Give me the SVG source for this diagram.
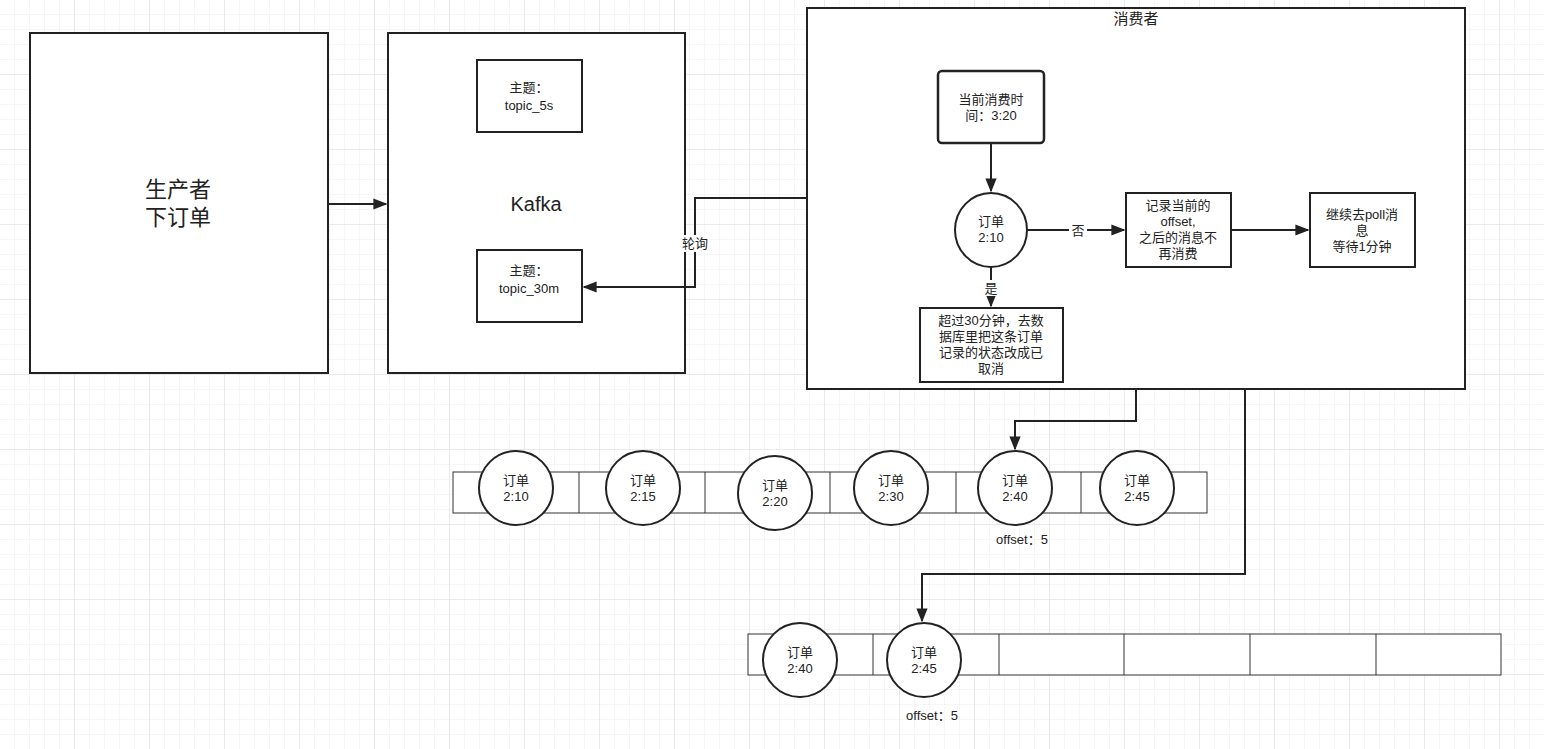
<svg xmlns="http://www.w3.org/2000/svg" width="1544" height="749" viewBox="0 0 1544 749">
<defs>
<pattern id="g" width="15" height="15" patternUnits="userSpaceOnUse"><path d="M15 0V15H0" fill="none" stroke="#ececec" stroke-width="1"/></pattern>
<pattern id="G" width="75" height="75" patternUnits="userSpaceOnUse"><rect width="75" height="75" fill="url(#g)"/><path d="M75 0V75H0" fill="none" stroke="#dedede" stroke-width="1"/></pattern>
<marker id="a" viewBox="0 0 10 10" refX="9" refY="5" markerWidth="7" markerHeight="7" orient="auto"><path d="M0 1L10 5L0 9Z" fill="#222"/></marker>
<style>
.b{fill:#fff;stroke:#222;stroke-width:2}
.c{fill:#fff;stroke:#333;stroke-width:1}
text{font-family:"Liberation Sans","Noto Sans CJK SC",sans-serif;fill:#222;text-anchor:middle;font-size:13px}
.l{fill:none;stroke:#222;stroke-width:2}
</style>
</defs>
<rect width="1544" height="749" fill="#fff"/>
<rect width="1544" height="749" fill="url(#G)"/>
<g id="producer"><rect class="b" x="30" y="33" width="298" height="340"/><text x="178" y="197" style="font-size:22px">生产者</text><text x="178" y="225" style="font-size:22px">下订单</text></g>
<g id="kafka"><rect class="b" x="388" y="33" width="297" height="340"/><text x="536" y="211" style="font-size:20px">Kafka</text></g>
<g id="topic5s"><rect class="b" x="477" y="60" width="105" height="72"/><text x="529" y="92">主题：</text><text x="529" y="110">topic_5s</text></g>
<g id="topic30m"><rect class="b" x="477" y="250" width="105" height="72"/><text x="529" y="275">主题：</text><text x="529" y="293">topic_30m</text></g>
<g id="consumer"><rect class="b" x="807" y="8" width="658" height="381"/><text x="1136" y="24" style="font-size:15px">消费者</text></g>
<g id="time"><rect class="b" x="938" y="71" width="106" height="72" rx="4" style="stroke-width:2.5"/><text x="991" y="104">当前消费时</text><text x="991" y="120">间：3:20</text></g>
<g id="order"><ellipse class="b" cx="991" cy="230" rx="36" ry="37"/><text x="991" y="226">订单</text><text x="991" y="242">2:10</text></g>
<g id="record"><rect class="b" x="1126" y="193" width="105" height="74"/><text x="1178" y="210">记录当前的</text><text x="1178" y="226">offset,</text><text x="1178" y="242">之后的消息不</text><text x="1178" y="258">再消费</text></g>
<g id="continue"><rect class="b" x="1310" y="193" width="105" height="74"/><text x="1362" y="219">继续去poll消</text><text x="1362" y="235">息</text><text x="1362" y="251">等待1分钟</text></g>
<g id="cancel"><rect class="b" x="920" y="308" width="143" height="74"/><text x="991" y="325">超过30分钟，去数</text><text x="991" y="341">据库里把这条订单</text><text x="991" y="357">记录的状态改成已</text><text x="991" y="373">取消</text></g>
<g id="queue1">
<rect class="c" x="453" y="472" width="754" height="41"/>
<path d="M579 472V513M705 472V513M830 472V513M956 472V513M1081 472V513" stroke="#333" fill="none"/>
<ellipse class="b" cx="516" cy="488" rx="37" ry="37"/><text x="516" y="485">订单</text><text x="516" y="501">2:10</text>
<ellipse class="b" cx="643" cy="488" rx="37" ry="37"/><text x="643" y="485">订单</text><text x="643" y="501">2:15</text>
<ellipse class="b" cx="775" cy="493" rx="37" ry="37"/><text x="775" y="490">订单</text><text x="775" y="506">2:20</text>
<ellipse class="b" cx="891" cy="488" rx="37" ry="37"/><text x="891" y="485">订单</text><text x="891" y="501">2:30</text>
<ellipse class="b" cx="1015" cy="488" rx="37" ry="37"/><text x="1015" y="485">订单</text><text x="1015" y="501">2:40</text>
<ellipse class="b" cx="1137" cy="488" rx="37" ry="37"/><text x="1137" y="485">订单</text><text x="1137" y="501">2:45</text>
<text x="1022" y="544">offset：5</text>
</g>
<g id="queue2">
<rect class="c" x="748" y="634" width="753" height="41"/>
<path d="M873 634V675M999 634V675M1124 634V675M1250 634V675M1376 634V675" stroke="#333" fill="none"/>
<ellipse class="b" cx="800" cy="660" rx="37" ry="37"/><text x="800" y="657">订单</text><text x="800" y="673">2:40</text>
<ellipse class="b" cx="924" cy="660" rx="37" ry="37"/><text x="924" y="657">订单</text><text x="924" y="673">2:45</text>
<text x="932" y="720">offset：5</text>
</g>
<g id="connectors">
<path class="l" d="M328 204H386" marker-end="url(#a)"/>
<path class="l" d="M807 198H695V287H584" marker-end="url(#a)"/>
<rect x="680" y="235" width="30" height="17" fill="#fff"/><text x="695" y="248">轮询</text>
<path class="l" d="M991 143V191" marker-end="url(#a)"/>
<path class="l" d="M1027 230H1124" marker-end="url(#a)"/>
<rect x="1069" y="222" width="18" height="17" fill="#fff"/><text x="1078" y="235">否</text>
<path class="l" d="M1231 230H1308" marker-end="url(#a)"/>
<path class="l" d="M991 267V306" marker-end="url(#a)"/>
<rect x="982" y="280" width="18" height="16" fill="#fff"/><text x="991" y="293">是</text>
<path class="l" d="M1136 389V421H1015V449" marker-end="url(#a)"/>
<path class="l" d="M1245 389V574H922V621" marker-end="url(#a)"/>
</g>
</svg>
